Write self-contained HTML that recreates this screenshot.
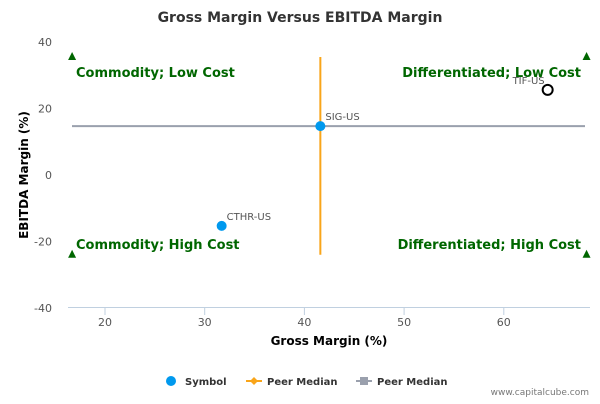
<!DOCTYPE html>
<html><head><meta charset="utf-8"><style>
body{margin:0;background:#fff;font-family:"DejaVu Sans","Liberation Sans",sans-serif}
svg text{font-family:"DejaVu Sans","Liberation Sans",sans-serif}
</style></head><body>
<svg width="600" height="400" xmlns="http://www.w3.org/2000/svg">
<rect width="600" height="400" fill="#fff"/>
<text x="300" y="22" text-anchor="middle" font-size="14" font-weight="bold" fill="#333">Gross Margin Versus EBITDA Margin</text>
<g id="axes"></g><g id="marks"></g>
<text x="28" y="175" transform="rotate(-90 28 175)" text-anchor="middle" font-size="12" font-weight="bold" fill="#000">EBITDA Margin (%)</text>
<text x="329" y="345" text-anchor="middle" font-size="12" font-weight="bold" fill="#000">Gross Margin (%)</text>
<g font-size="10" font-weight="bold" fill="#333">
<g><circle cx="171" cy="381" r="5" fill="#0099ee"/><text x="185" y="385">Symbol</text></g>
<g><line x1="246" y1="381" x2="262" y2="381" stroke="#f9a51a" stroke-width="2"/><path d="M254 377 L258 381 L254 385 L250 381Z" fill="#f9a51a"/><text x="267" y="385">Peer Median</text></g>
<g><line x1="356" y1="381" x2="372" y2="381" stroke="#9aa0ad" stroke-width="2"/><rect x="360" y="377" width="8" height="8" fill="#9aa0ad"/><text x="377" y="385">Peer Median</text></g>
</g>
<text x="589" y="395" text-anchor="end" font-size="9" fill="#777">www.capitalcube.com</text>
</svg>
<script>
const xTicks=[20,30,40,50,60];
const yTicks=[40,20,0,-20,-40];
const symbols=['SIG-US','CTHR-US','TIF-US'];
const grossMargin=[41.6,31.7,64.4];
const ebitdaMargin=[14.7,-15.3,25.6];
const peerMedianX=41.6, peerMedianY=14.7;
const quadLabels=['Commodity; Low Cost','Differentiated; Low Cost','Commodity; High Cost','Differentiated; High Cost'];
const X=v=>105+(v-20)*9.97, Y=v=>175-v*3.325;
const NS='http://www.w3.org/2000/svg';
function mk(p,t,a,txt){const e=document.createElementNS(NS,t);for(const k in a)e.setAttribute(k,a[k]);if(txt!=null)e.textContent=txt;p.appendChild(e);return e;}
const ax=document.getElementById('axes'),mg=document.getElementById('marks');
let l=mk(ax,'line',{x1:68,y1:307.5,x2:590,y2:307.5,stroke:'#c0d0e0'});


xTicks.forEach(v=>{const t=mk(ax,'line',{x1:X(v),y1:307.5,x2:X(v),y2:315,stroke:'#c0d0e0'});


const s=mk(ax,'text',{x:X(v),y:326,'text-anchor':'middle','font-size':11,fill:'#555'},v);

});
yTicks.forEach(v=>{const s=mk(ax,'text',{x:52,y:Y(v)+4,'text-anchor':'end','font-size':11,fill:'#555'},v);

});
let h=mk(mg,'line',{x1:72,y1:Y(peerMedianY),x2:585,y2:Y(peerMedianY),stroke:'#9aa0ad','stroke-width':2});


let vl=mk(mg,'line',{x1:X(peerMedianX),y1:Y(35.5),x2:X(peerMedianX),y2:Y(-24),stroke:'#f9a51a','stroke-width':2});


const corners=[[16.7,35.5,'start',76,77],[68.3,35.5,'end',581,77],[16.7,-24,'start',76,249],[68.3,-24,'end',581,249]];
corners.forEach((c,i)=>{const cx=X(c[0]),cy=Y(c[1]);
const tr=mk(mg,'path',{d:`M${cx} ${cy-5} L${cx+4} ${cy+3} L${cx-4} ${cy+3}Z`,fill:'#006600'});


const t=mk(mg,'text',{x:c[3],y:c[4],'text-anchor':c[2],'font-size':13,'font-weight':'bold',fill:'#006600'},quadLabels[i]);

});
symbols.forEach((s,i)=>{const cx=X(grossMargin[i]),cy=Y(ebitdaMargin[i]);const tif=s==='TIF-US';
const c=mk(mg,'circle',{cx,cy,r:tif?5:5,fill:tif?'#fff':'#0099ee',stroke:tif?'#000':'none','stroke-width':2});


const t=mk(mg,'text',{x:tif?cx-3:cx+5,y:cy-6,'text-anchor':tif?'end':'start','font-size':10,fill:'#555'},s);

});
</script>
</body></html>
